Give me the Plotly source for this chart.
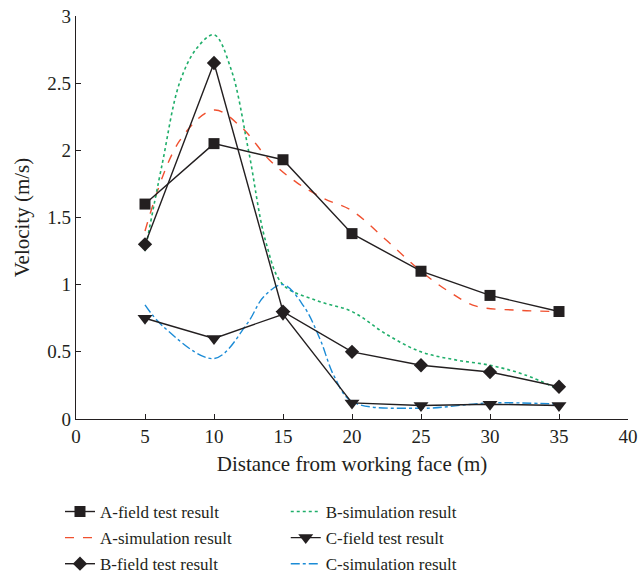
import plotly.graph_objects as go

# Field test positions (m)
x_field = [5, 10, 15, 20, 25, 30, 35]
a_field = [1.60, 2.05, 1.93, 1.38, 1.10, 0.92, 0.80]
b_field = [1.30, 2.65, 0.80, 0.50, 0.40, 0.35, 0.24]
c_field = [0.75, 0.60, 0.78, 0.12, 0.10, 0.11, 0.10]

# Simulation curves
a_sim_x = [5, 7.5, 10, 12, 14, 16, 18, 20, 22.5, 25, 27, 29, 32, 35]
a_sim_y = [1.40, 2.07, 2.30, 2.17, 1.93, 1.76, 1.64, 1.55, 1.33, 1.10, 0.95, 0.84, 0.81, 0.80]

b_sim_x = [5, 6.25, 7.5, 8.75, 10, 11.25, 12.5, 13.75, 15, 17.5, 20, 22.5, 25, 27.5, 30, 32.5, 35]
b_sim_y = [1.25, 1.90, 2.50, 2.76, 2.86, 2.60, 2.00, 1.32, 1.00, 0.88, 0.80, 0.63, 0.50, 0.44, 0.40, 0.33, 0.22]

c_sim_x = [5, 6.3, 10, 12.4, 13.6, 15, 16.5, 17.7, 18.7, 20, 25, 30, 35]
c_sim_y = [0.85, 0.69, 0.45, 0.71, 0.91, 1.00, 0.84, 0.59, 0.32, 0.13, 0.08, 0.12, 0.11]

x_ticks = [0, 5, 10, 15, 20, 25, 30, 35, 40]
y_ticks = [0, 0.5, 1, 1.5, 2, 2.5, 3]
y_tick_text = ["0", "0.5", "1", "1.5", "2", "2.5", "3"]

BLACK = "#231f20"
RED = "#f0502f"
GREEN = "#1fae6a"
BLUE = "#1b8bd6"
FONT = "Liberation Serif"

fig = go.Figure()

fig.add_trace(go.Scatter(x=a_sim_x, y=a_sim_y, mode="lines", name="A-simulation result",
                         line=dict(color=RED, width=1.4, dash="dash", shape="spline"),
                         legend="legend", legendgroup="as", legendrank=2))
fig.add_trace(go.Scatter(x=b_sim_x, y=b_sim_y, mode="lines", name="B-simulation result",
                         line=dict(color=GREEN, width=1.6, dash="dot", shape="spline"),
                         legend="legend2", legendgroup="bs", legendrank=1))
fig.add_trace(go.Scatter(x=c_sim_x, y=c_sim_y, mode="lines", name="C-simulation result",
                         line=dict(color=BLUE, width=1.4, dash="dashdot", shape="spline"),
                         legend="legend2", legendgroup="cs", legendrank=3))

fig.add_trace(go.Scatter(x=x_field, y=a_field, mode="lines+markers", name="A-field test result",
                         line=dict(color=BLACK, width=1.4),
                         marker=dict(symbol="square", size=11, color=BLACK),
                         legend="legend", legendgroup="af", legendrank=1))
fig.add_trace(go.Scatter(x=x_field, y=b_field, mode="lines+markers", name="B-field test result",
                         line=dict(color=BLACK, width=1.4),
                         marker=dict(symbol="diamond", size=11, color=BLACK),
                         legend="legend", legendgroup="bf", legendrank=3))
fig.add_trace(go.Scatter(x=x_field, y=c_field, mode="lines+markers", name="C-field test result",
                         line=dict(color=BLACK, width=1.4),
                         marker=dict(symbol="triangle-down", size=13, color=BLACK),
                         legend="legend2", legendgroup="cf", legendrank=2))

legend_common = dict(
    orientation="v", yanchor="top", xanchor="left",
    font=dict(family=FONT, size=17, color=BLACK),
    traceorder="grouped", tracegroupgap=1, bgcolor="rgba(0,0,0,0)",
)

fig.update_layout(
    width=638, height=579,
    margin=dict(l=76, r=10, t=16, b=160, autoexpand=False),
    plot_bgcolor="white", paper_bgcolor="white",
    font=dict(family=FONT, color=BLACK, size=19),
    showlegend=True,
    legend=dict(x=-0.029, y=-0.186, **legend_common),
    legend2=dict(x=0.380, y=-0.186, **legend_common),
    xaxis=dict(
        range=[0, 40], tickvals=x_ticks, ticks="inside", ticklen=5, tickwidth=1,
        tickcolor=BLACK, showline=True, linecolor=BLACK, linewidth=1.2,
        showgrid=False, zeroline=False, tickfont=dict(size=19), automargin=False,
        ticklabeloverflow="allow",
        title=dict(text="Distance from working face (m)", font=dict(size=21), standoff=10),
    ),
    yaxis=dict(
        range=[0, 3], tickvals=y_ticks, ticktext=y_tick_text, ticks="inside", ticklen=5,
        tickwidth=1, tickcolor=BLACK, showline=True, linecolor=BLACK, linewidth=1.2,
        showgrid=False, zeroline=False, tickfont=dict(size=19), automargin=False,
        ticklabeloverflow="allow",
        title=dict(text="Velocity (m/s)", font=dict(size=21), standoff=11),
    ),
)

fig.write_html(
    "out.html",
    config={"displayModeBar": False},
    post_script="document.body.style.margin='0';document.body.style.overflow='hidden';",
)
